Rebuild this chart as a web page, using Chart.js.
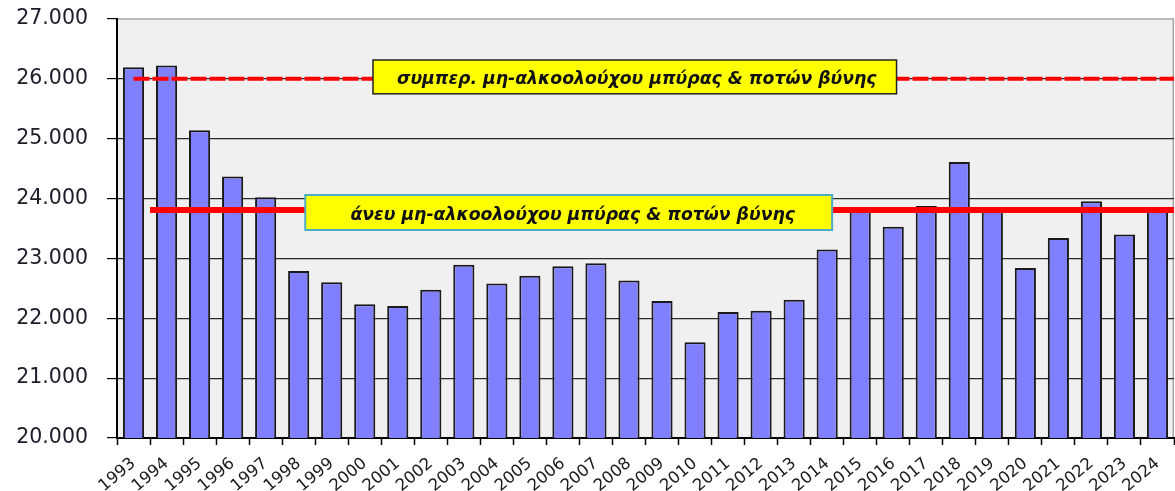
<!DOCTYPE html>
<html>
<head>
<meta charset="utf-8">
<script src="https://cdn.jsdelivr.net/npm/chart.js@4.4.1/dist/chart.umd.min.js"></script>
<style>
html,body{margin:0;padding:0;background:#ffffff;}
#wrap{width:1175px;height:491px;position:relative;}
</style>
</head>
<body>
<div id="wrap"><canvas id="c" width="1175" height="491"></canvas></div>
<script>
// ---- data ----
const years = ['1993','1994','1995','1996','1997','1998','1999','2000','2001','2002','2003','2004','2005','2006','2007','2008','2009','2010','2011','2012','2013','2014','2015','2016','2017','2018','2019','2020','2021','2022','2023','2024'];
const values = [26195,26225,25140,24370,24020,22790,22600,22235,22205,22475,22895,22580,22710,22870,22920,22630,22290,21600,22105,22125,22310,23150,23800,23530,23875,24610,23810,22840,23340,23955,23400,23800];
const yTickValues = [20000,21000,22000,23000,24000,25000,26000,27000];
const avgWithNonAlcoholic = 26000;
const avgWithoutNonAlcoholic = 23810;
const labelWith = 'συμπερ. μη-αλκοολούχου μπύρας & ποτών βύνης';
const labelWithout = 'άνευ μη-αλκοολούχου μπύρας & ποτών βύνης';

const fmt = v => Math.round(v).toString().replace(/\B(?=(\d{3})+(?!\d))/g, '.');
const lastIdx = years.length - 1;

// background + frame of plot area
const plotFrame = {
  id: 'plotFrame',
  beforeDraw(chart) {
    const {ctx, chartArea: a} = chart;
    ctx.save();
    ctx.fillStyle = '#f0f0f0';
    ctx.fillRect(a.left, a.top, a.right - a.left, a.bottom - a.top);
    ctx.strokeStyle = '#a8a8a8';
    ctx.lineWidth = 1.5;
    ctx.beginPath();
    ctx.moveTo(a.left, a.top); ctx.lineTo(a.right - 0.75, a.top); ctx.lineTo(a.right - 0.75, a.bottom);
    ctx.stroke();
    ctx.restore();
  }
};

// text boxes anchored in data coordinates
const boxes = {
  id: 'boxes',
  afterDatasetsDraw(chart, args, opts) {
    const {ctx} = chart;
    const xs = chart.scales.x2, ys = chart.scales.y;
    opts.items.forEach(b => {
      const l = xs.getPixelForValue(b.x0), r = xs.getPixelForValue(b.x1);
      const t = ys.getPixelForValue(b.y0), btm = ys.getPixelForValue(b.y1);
      ctx.save();
      ctx.fillStyle = '#ffff00';
      ctx.fillRect(l, t, r - l, btm - t);
      ctx.strokeStyle = b.border;
      ctx.lineWidth = b.borderWidth;
      ctx.strokeRect(l, t, r - l, btm - t);
      ctx.fillStyle = '#111111';
      ctx.font = 'italic bold 17.3px "DejaVu Sans"';
      ctx.textAlign = 'center';
      ctx.textBaseline = 'middle';
      ctx.fillText(b.text, (l + r) / 2 + b.dx, (t + btm) / 2 + 3);
      ctx.restore();
    });
  }
};

new Chart(document.getElementById('c'), {
  data: {
    labels: years,
    datasets: [
      {
        type: 'line',
        data: [{x: 0, y: avgWithNonAlcoholic}, {x: lastIdx + 0.5, y: avgWithNonAlcoholic}],
        xAxisID: 'x2', yAxisID: 'y',
        borderColor: '#ff0000', borderWidth: 4, borderDash: [16, 3],
        pointRadius: 0, fill: false, order: 1
      },
      {
        type: 'line',
        data: [{x: 0.5, y: avgWithoutNonAlcoholic}, {x: lastIdx + 0.5, y: avgWithoutNonAlcoholic}],
        xAxisID: 'x2', yAxisID: 'y',
        borderColor: '#ff0000', borderWidth: 6,
        pointRadius: 0, fill: false, order: 1
      },
      {
        type: 'bar',
        data: values,
        xAxisID: 'x', yAxisID: 'y',
        backgroundColor: '#8080ff',
        borderColor: '#1a1a1a',
        borderWidth: 2,
        barPercentage: 0.64,
        categoryPercentage: 1.0,
        grouped: false,
        order: 2
      }
    ]
  },
  options: {
    responsive: false,
    animation: false,
    devicePixelRatio: 1,
    layout: {padding: {top: 19, right: 1, left: 0, bottom: 0}},
    plugins: {
      legend: {display: false},
      tooltip: {enabled: false},
      boxes: {
        items: [
          {x0: 7.25, x1: 23.1, y0: 26315, y1: 25750, text: labelWith, border: '#222222', borderWidth: 1.5, dx: 2},
          {x0: 5.2, x1: 21.15, y0: 24060, y1: 23475, text: labelWithout, border: '#4bacc6', borderWidth: 2, dx: 4}
        ]
      }
    },
    scales: {
      x: {
        type: 'category',
        offset: true,
        grid: {offset: true, drawOnChartArea: false, tickLength: 7, tickColor: '#000000', tickWidth: 1.5},
        border: {color: '#000000', width: 2},
        ticks: {
          autoSkip: false, maxRotation: 40, minRotation: 40, padding: 9,
          color: '#1a1a1a', font: {family: '"DejaVu Sans"', size: 16.5}
        },
        afterFit(s) { s.height = 53; s.paddingLeft = 0; s.paddingRight = 0; }
      },
      x2: {
        type: 'linear', display: false, min: -0.5, max: lastIdx + 0.5
      },
      y: {
        type: 'linear', min: 20000, max: 27000,
        afterBuildTicks(s) { s.ticks = yTickValues.map(v => ({value: v})); },
        grid: {
          color: c => (c.tick && c.tick.value === 27000) ? 'rgba(0,0,0,0)' : '#2a2a2a',
          lineWidth: 1.2, tickLength: 10, tickColor: '#000000'
        },
        border: {color: '#000000', width: 2},
        ticks: {
          padding: 19, color: '#1c1c2a',
          font: {family: '"DejaVu Sans"', size: 20.5},
          callback: v => fmt(v)
        },
        afterFit(s) { s.width = 117; s.paddingTop = 0; s.paddingBottom = 0; }
      }
    }
  },
  plugins: [plotFrame, boxes]
});
</script>
</body>
</html>
